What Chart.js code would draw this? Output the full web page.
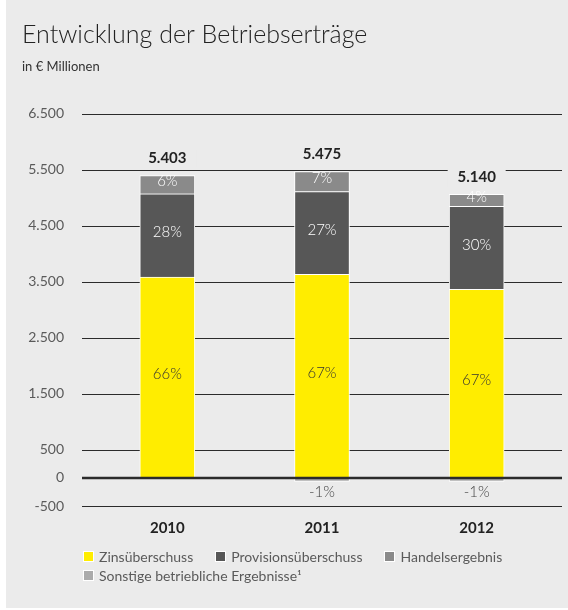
<!DOCTYPE html>
<html lang="de">
<head>
<meta charset="utf-8">
<title>Entwicklung der Betriebserträge</title>
<script src="https://cdn.jsdelivr.net/npm/chart.js@4.4.1/dist/chart.umd.min.js"></script>
<style>
  body { margin: 0; background: #fff; font-family: Lato, sans-serif; }
  #panel { position: absolute; left: 6px; top: 0; width: 562px; height: 608px; background: #ebebeb; }
  #legend { position: absolute; left: 77px; top: 547px; width: 480px; display: flex; flex-wrap: wrap;
            font-size: 14px; color: #5a5a5a; line-height: 19px; }
  .item { display: flex; align-items: center; margin-right: 22px; }
  .box { width: 9px; height: 9px; border: 1px solid #fff; margin-right: 5px; }
</style>
</head>
<body>
<div id="panel">
  <canvas id="chart" width="562" height="608"></canvas>
  <div id="legend"></div>
</div>
<script>
// data (values in € Mio)
var years = ['2010', '2011', '2012'];
var zins = [3585, 3633, 3366];
var provision = [1485, 1478, 1478];
var handel = [326, 356, 214];
var sonstige = [0, -60, -60];
var totals = [5403, 5475, 5140];

// printed shares
var zinsPct = [66, 67, 67];
var provisionPct = [28, 27, 30];
var handelPct = [6, 7, 4];
var sonstigePct = [null, -1, -1];

var yTicks = [-500, 0, 500, 1500, 2500, 3500, 4500, 5500, 6500];

var bg = '#ebebeb';

function fmt(v){
	return String(v).replace(/\B(?=(\d{3})+(?!\d))/g, '.');
}

var labelPlugin = {
	id: 'labels',
	beforeDatasetsDraw: function(chart){
		var ctx = chart.ctx, area = chart.chartArea, y = chart.scales.y;
		ctx.save();
		ctx.strokeStyle = '#2b2b2b';
		ctx.lineWidth = 1;
		y.ticks.forEach(function(t){
			if (t.value === 0) { return; }
			var py = Math.round(y.getPixelForValue(t.value)) + 0.5;
			ctx.beginPath();
			ctx.moveTo(area.left - 8, py);
			ctx.lineTo(area.right + 8, py);
			ctx.stroke();
		});
		ctx.restore();
	},
	afterDatasetsDraw: function(chart){
		var ctx = chart.ctx, area = chart.chartArea, y = chart.scales.y;
		ctx.save();

		// zero line on top of the bars
		var zy = y.getPixelForValue(0);
		ctx.strokeStyle = '#2b2b2b';
		ctx.lineWidth = 2.5;
		ctx.beginPath();
		ctx.moveTo(area.left - 8, zy);
		ctx.lineTo(area.right + 8, zy);
		ctx.stroke();

		ctx.textAlign = 'center';
		ctx.textBaseline = 'middle';

		var pcts = [zinsPct, provisionPct, handelPct];
		pcts.forEach(function(arr, d){
			var meta = chart.getDatasetMeta(d);
			ctx.font = '300 15px Lato';
			ctx.fillStyle = d === 0 ? '#333' : '#fff';
			meta.data.forEach(function(bar, i){
				if (arr[i] == null) { return; }
				ctx.fillText(arr[i] + '%', bar.x, (bar.y + bar.base) / 2 - 3);
			});
		});

		// negative "Sonstige" shares below the bar
		var metaS = chart.getDatasetMeta(3);
		ctx.fillStyle = '#444';
		metaS.data.forEach(function(bar, i){
			if (sonstigePct[i] == null) { return; }
			ctx.fillText(sonstigePct[i] + '%', bar.x, bar.y + 11);
		});

		// totals above the stacks
		var metaH = chart.getDatasetMeta(2);
		ctx.font = 'bold 15px Lato';
		metaH.data.forEach(function(bar, i){
			var ty = bar.y - 17;
			ctx.fillStyle = bg;
			ctx.fillRect(bar.x - 29, ty - 9, 58, 18);
			ctx.fillStyle = '#222';
			ctx.fillText(fmt(totals[i]), bar.x, ty);
		});
		ctx.restore();
	}
};

var chart = new Chart(document.getElementById('chart'), {
	type: 'bar',
	data: {
		labels: years,
		datasets: [
			{ label: 'Zinsüberschuss', data: zins, backgroundColor: '#ffed00' },
			{ label: 'Provisionsüberschuss', data: provision, backgroundColor: '#575757' },
			{ label: 'Handelsergebnis', data: handel, backgroundColor: '#8a8a8a' },
			{ label: 'Sonstige betriebliche Ergebnisse¹', data: sonstige, backgroundColor: '#ababab' }
		]
	},
	options: {
		responsive: false,
		animation: false,
		layout: { padding: { left: 16, right: 14, top: 0, bottom: 0 } },
		datasets: {
			bar: { barThickness: 55, borderColor: '#fff', borderWidth: 1 }
		},
		plugins: {
			legend: { display: false },
			tooltip: { enabled: false },
			title: {
				display: true,
				text: 'Entwicklung der Betriebserträge',
				align: 'start',
				color: '#222',
				font: { family: 'Lato', size: 25, weight: '300' },
				padding: { top: 20, bottom: 0 }
			},
			subtitle: {
				display: true,
				text: 'in € Millionen',
				align: 'start',
				color: '#333',
				font: { family: 'Lato', size: 13, weight: '400' },
				padding: { top: 9, bottom: 39 }
			}
		},
		scales: {
			x: {
				stacked: true,
				grid: { display: false, drawTicks: false },
				border: { display: false },
				ticks: { color: '#222', font: { family: 'Lato', size: 15, weight: 'bold' }, padding: 13 },
				afterFit: function(s){ s.height = 102; }
			},
			y: {
				stacked: true,
				min: -500,
				max: 6500,
				grid: { display: false, drawTicks: false },
				border: { display: false },
				afterBuildTicks: function(s){
					s.ticks = yTicks.map(function(v){ return { value: v }; });
				},
				ticks: {
					color: '#5a5a5a',
					font: { family: 'Lato', size: 14 },
					padding: 26,
					callback: function(v){ return fmt(v); }
				},
				afterFit: function(s){ s.width = 68; }
			}
		}
	},
	plugins: [labelPlugin]
});

// legend as html, built from the datasets
var legend = document.getElementById('legend');
chart.data.datasets.forEach(function(ds){
	var item = document.createElement('div');
	item.className = 'item';
	var box = document.createElement('span');
	box.className = 'box';
	box.style.background = ds.backgroundColor;
	var txt = document.createElement('span');
	txt.textContent = ds.label;
	item.appendChild(box);
	item.appendChild(txt);
	legend.appendChild(item);
});
</script>
</body>
</html>
